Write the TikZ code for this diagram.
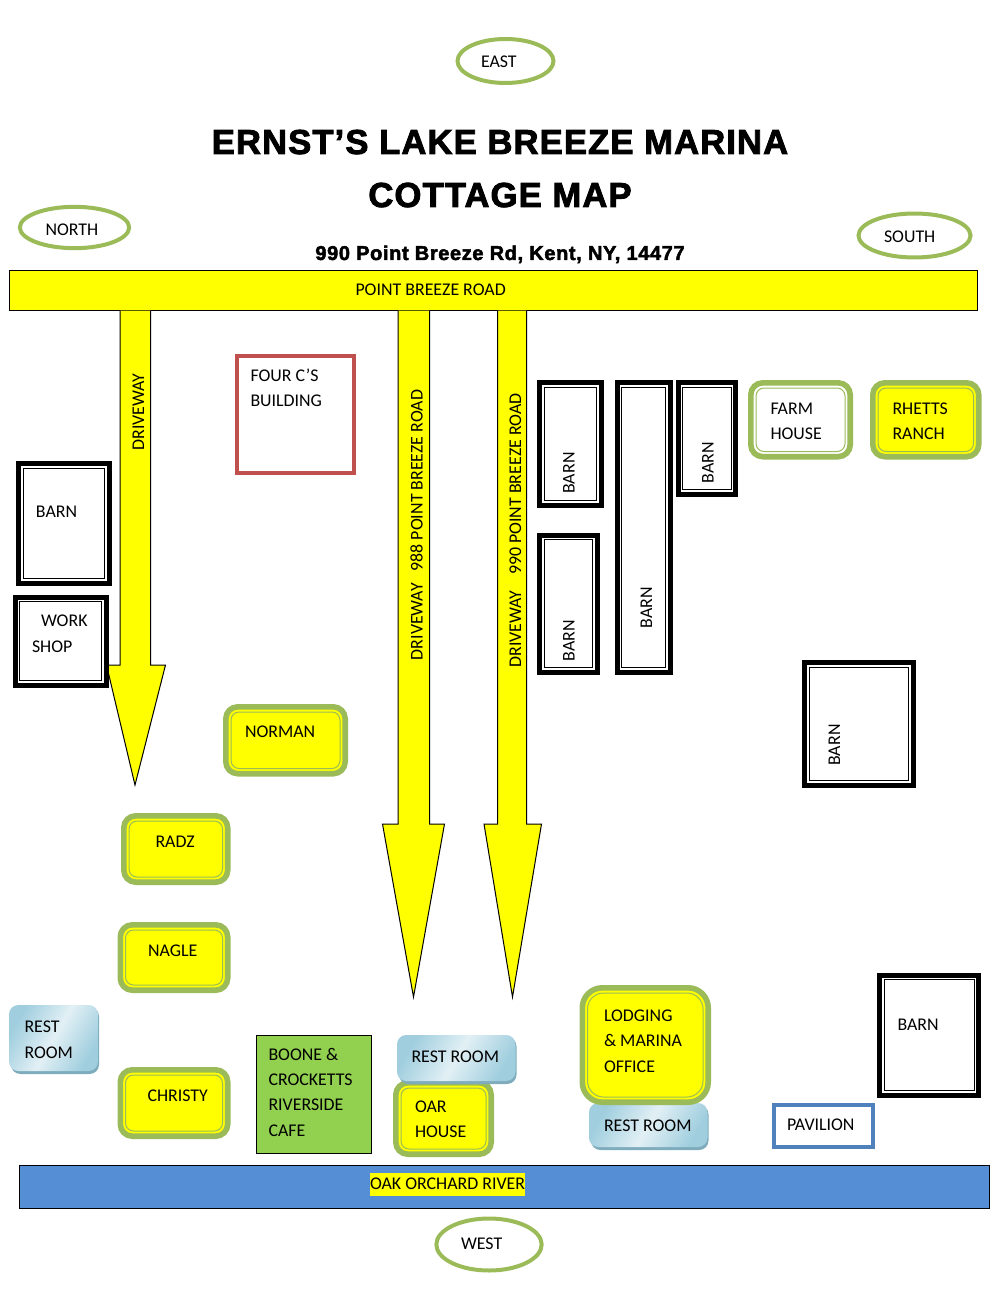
\documentclass[tikz,border=0pt]{standalone}
\usepackage{fontspec}
\setmainfont{Carlito}
\newfontfamily\titlefont[FakeBold=2.4,LetterSpace=3.1]{Liberation Sans Bold}
\usetikzlibrary{shapes.geometric}

\definecolor{roadyellow}{RGB}{255,255,0}
\definecolor{oliveline}{RGB}{155,187,89}
\definecolor{cafegreen}{RGB}{146,208,80}
\definecolor{riverblue}{RGB}{85,142,213}
\definecolor{brickline}{RGB}{192,80,77}
\definecolor{paviline}{RGB}{79,129,189}
\definecolor{restdark}{RGB}{160,206,222}
\definecolor{restlight}{RGB}{226,240,245}
\definecolor{restedge}{RGB}{126,172,188}

\tikzset{every picture/.style={line width=0.75pt}}
\tikzset{
  roadshape/.style={draw=black,fill=roadyellow,line width=0.75pt},
  barnout/.style={draw=black,fill=white,line width=4pt,miter limit=10},
  barnin/.style={draw=black,line width=1pt},
  cottageout/.style={draw=oliveline,line width=4.2pt},
  cottagein/.style={draw=oliveline,line width=0.75pt},
  compass/.style={ellipse,draw=oliveline,line width=3pt,fill=white,inner sep=0pt},
  lbl/.style={anchor=base west,inner sep=0pt,font=\fontsize{13.4}{15}\selectfont},
  vlbl/.style={rotate=90,inner sep=0pt,font=\fontsize{13.4}{15}\selectfont},
  titlelbl/.style={anchor=base,inner sep=0pt,font=\titlefont\fontsize{26}{30}\selectfont},
}

% corners of the outer edge: x1 y1 x2 y2
\newcommand{\barnshape}[4]{
  \draw[barnout] ({#1+2.7},{#2+2.7}) rectangle ({#3-2.7},{#4-2.7});
  \draw[barnin] ({#1+7.2},{#2+7.2}) rectangle ({#3-7.2},{#4-7.2});
}
\newcommand{\cottageshape}[6][9pt]{
  \draw[cottageout,rounded corners=#1,fill=#6] ({#2+2.8},{#3+2.8}) rectangle ({#4-2.8},{#5-2.8});
  \draw[cottagein,rounded corners=#1-3pt] ({#2+8},{#3+8}) rectangle ({#4-8},{#5-8});
}
\newcommand{\restshape}[4]{
  \fill[restedge,rounded corners=7pt] ({#1+2},{#2+2}) rectangle (#3,#4);
  \shade[rounded corners=7pt,left color=restdark,right color=restdark,middle color=restlight,shading angle=60] (#1,#2) rectangle ({#3-1},{#4-3});
}

\begin{document}
\begin{tikzpicture}[x=0.75pt,y=0.75pt,yscale=-1,xscale=1]
\useasboundingbox (0,0) rectangle (1000,1294);

% Compass
\node[compass,minimum width=72pt,minimum height=33pt] (east) at (505.5,61) {};
\node[compass,minimum width=82pt,minimum height=31pt] (north) at (74.5,227.5) {};
\node[compass,minimum width=84pt,minimum height=33pt] (south) at (914.5,235.5) {};
\node[compass,minimum width=79pt,minimum height=39pt] (west) at (489,1244.5) {};
\node[lbl] (eastlbl) at (480.5,68) {EAST};
\node[lbl] (northlbl) at (45,236) {NORTH};
\node[lbl] (southlbl) at (883.5,243) {SOUTH};
\node[lbl] (westlbl) at (460.5,1249) {WEST};

% Title
\node[titlelbl] (title1) at (500,154) {ERNST’S LAKE BREEZE MARINA};
\node[titlelbl] (title2) at (500,207) {COTTAGE MAP};
\node[anchor=base,inner sep=0pt,font=\titlefont\fontsize{15}{17}\selectfont] (address) at (500,260) {990 Point Breeze Rd, Kent, NY, 14477};

% Road and driveways
\draw[roadshape] (9.5,270.5) rectangle (977.5,310.5);
\node[lbl] (roadlbl) at (355,295.5) {POINT BREEZE ROAD};
\draw[roadshape] (120,310.5) -- (120,665) -- (106.5,665) -- (135,785) -- (165.5,665) -- (150.5,665) -- (150.5,310.5);
\draw[roadshape] (398,310.5) -- (398,824) -- (382.5,824) -- (413.5,997) -- (444.5,824) -- (429.5,824) -- (429.5,310.5);
\draw[roadshape] (497.5,310.5) -- (497.5,824) -- (484,824) -- (512.5,997) -- (541.5,824) -- (526.5,824) -- (526.5,310.5);
\node[vlbl] (way1) at (138.5,412) {DRIVEWAY};
\node[vlbl] (way2) at (416.5,525) {DRIVEWAY\hspace{9pt}988 POINT BREEZE ROAD};
\node[vlbl] (way3) at (515.5,530.5) {DRIVEWAY\hspace{12pt}990 POINT BREEZE ROAD};

% Four C's
\draw[draw=brickline,line width=3pt] (237,356) rectangle (354,472.5);
\node[lbl] (fourc1) at (250,381) {FOUR C’S};
\node[lbl] (fourc2) at (250,406.5) {BUILDING};

% Barns
\barnshape{16}{461}{112}{586}
\node[lbl] (barn1) at (35.5,517.5) {BARN};
\barnshape{12.5}{594.5}{109}{688}
\node[lbl] (work1) at (40.5,626.5) {WORK};
\node[lbl] (work2) at (31.5,652) {SHOP};
\barnshape{537}{380}{604}{508}
\node[vlbl] (barn2) at (569,473) {BARN};
\barnshape{537}{532.5}{600}{675}
\node[vlbl] (barn3) at (569,640.5) {BARN};
\barnshape{614.5}{380}{673}{675}
\node[vlbl] (barn4) at (646.5,607.5) {BARN};
\barnshape{675.5}{380}{738.5}{497}
\node[vlbl] (barn5) at (708,462.5) {BARN};
\barnshape{802}{660}{916}{788}
\node[vlbl] (barn6) at (834.5,745) {BARN};
\barnshape{877}{972.5}{981.5}{1098}
\node[lbl] (barn7) at (897,1030) {BARN};

% Cottages
\cottageshape{748}{380}{853}{459.5}{white}
\node[lbl] (farm1) at (770,414) {FARM};
\node[lbl] (farm2) at (770,439.5) {HOUSE};
\cottageshape{870}{380}{981.5}{459.5}{roadyellow}
\node[lbl] (rhetts1) at (892,414) {RHETTS};
\node[lbl] (rhetts2) at (892,439.5) {RANCH};
\cottageshape{223}{704}{348}{776.5}{roadyellow}
\node[lbl] (norman) at (244.5,737.5) {NORMAN};
\cottageshape{121}{813}{230.5}{885}{roadyellow}
\node[lbl] (radz) at (155,847) {RADZ};
\cottageshape{117.5}{922}{230.5}{993}{roadyellow}
\node[lbl] (nagle) at (147.5,956) {NAGLE};
\cottageshape{117.5}{1067}{230.5}{1139}{roadyellow}
\node[lbl] (christy) at (147,1101) {CHRISTY};
\cottageshape{393}{1080}{494}{1157}{roadyellow}
\node[lbl] (oar1) at (414.5,1112) {OAR};
\node[lbl] (oar2) at (414.5,1137.5) {HOUSE};

% Rest rooms and lodging
\restshape{9}{1005}{99}{1074}
\node[lbl] (rest1a) at (24,1032.5) {REST};
\node[lbl] (rest1b) at (24,1058) {ROOM};
\restshape{397}{1035}{516.5}{1084}
\node[lbl] (rest2) at (411,1062) {REST ROOM};
\restshape{589}{1103}{708.5}{1150}
\node[lbl] (rest3) at (603.5,1131) {REST ROOM};
\cottageshape[15pt]{579.5}{985}{711}{1105}{roadyellow}
\node[lbl] (lodge1) at (603.5,1021) {LODGING};
\node[lbl] (lodge2) at (603.5,1046.5) {\&\ MARINA};
\node[lbl] (lodge3) at (603.5,1072) {OFFICE};

% Cafe
\draw[draw=black,fill=cafegreen,line width=0.75pt] (256.5,1035.5) rectangle (371.5,1153.5);
\node[lbl] (cafe1) at (268,1060) {BOONE \&};
\node[lbl] (cafe2) at (268,1085) {CROCKETTS};
\node[lbl] (cafe3) at (268,1110.5) {RIVERSIDE};
\node[lbl] (cafe4) at (268,1136) {CAFE};

% Pavilion
\draw[draw=paviline,fill=white,line width=3pt] (773.5,1104.5) rectangle (873,1146.5);
\node[lbl] (pavilion) at (786.5,1130) {PAVILION};

% River
\draw[draw=black,fill=riverblue,line width=0.75pt] (19.5,1165.5) rectangle (989.5,1208.5);
\node[lbl,fill=roadyellow,text height=12.75pt,text depth=4.5pt] (river) at (369.5,1189.5) {OAK ORCHARD RIVER};

\end{tikzpicture}
\end{document}
